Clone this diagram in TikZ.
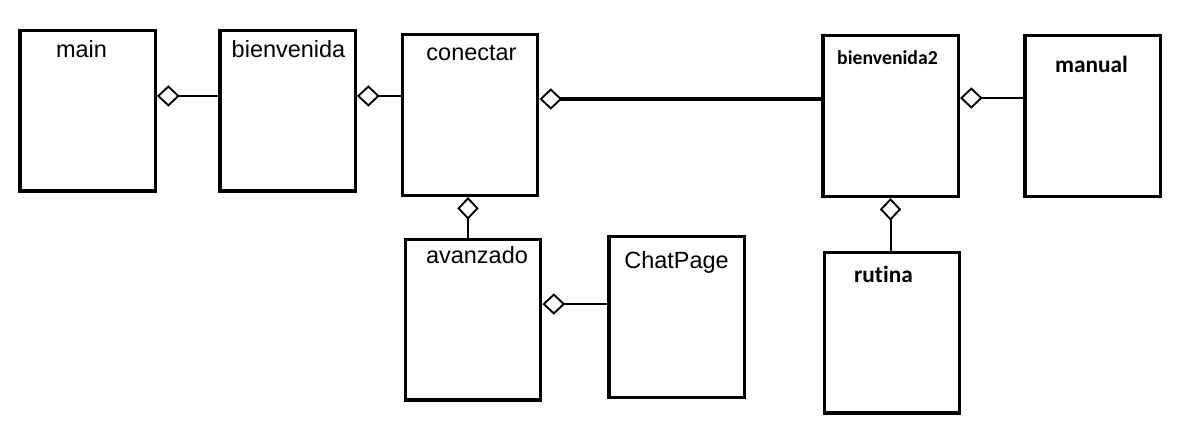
\documentclass[tikz,border=0pt]{standalone}
\usepackage{fontspec}
\setmainfont{Liberation Sans}
\newfontfamily\carlito[Ligatures=NoCommon]{Carlito}
\usetikzlibrary{arrows.meta}
\usetikzlibrary{positioning}

\tikzset{
  classbox/.style={draw, rectangle, line width=2.6pt, minimum width=101.6pt,
    minimum height=120.4pt, inner sep=0pt},
  plainname/.style={font=\fontsize{17.6}{20}\selectfont, anchor=base},
  boldname/.style={font=\carlito\bfseries\fontsize{17.5}{20}\selectfont, anchor=base},
  smallbold/.style={font=\carlito\bfseries\fontsize{14.8}{17}\selectfont, anchor=base},
  aggregation/.style={{Diamond[open, length=17pt, width=16pt, line width=1.4pt]}-,
    line width=1.5pt},
}

\begin{document}
\begin{tikzpicture}[x=0.75pt, y=-0.75pt]
      \useasboundingbox (0,0) rectangle (1180,446);

      % upper row
      \node[classbox, label={[plainname, xshift=-4.5pt, yshift=-21.75pt]north:main}]
        (main) at (87.5,110.5) {};
      \node[classbox, label={[plainname, xshift=0.75pt, yshift=-21.75pt]north:bienvenida}]
        (bienvenida) at (287.5,110.5) {};
      \node[classbox, label={[plainname, xshift=1.1pt, yshift=-20.25pt]north:conectar}]
        (conectar) at (470,115) {};
      \node[classbox, label={[smallbold, xshift=-2.25pt, yshift=-22.5pt]north:bienvenida2}]
        (bienvenida2) at (890.5,116) {};
      \node[classbox, label={[boldname, xshift=-0.75pt, yshift=-28.5pt]north:manual}]
        (manual) at (1092.5,116) {};

      % lower row
      \node[classbox, label={[plainname, xshift=3pt, yshift=-19.5pt]north:avanzado}]
        (avanzado) at (473,319.5) {};
      \node[classbox, label={[plainname, yshift=-24.75pt]north:ChatPage}]
        (chatpage) at (676.5,317) {};
      \node[classbox, label={[boldname, xshift=-6.4pt, yshift=-24pt]north:rutina}]
        (rutina) at (892,332.5) {};

      % aggregations
      \draw[aggregation] ([yshift=10.9pt]main.east) -- ([yshift=10.9pt]main.east -| bienvenida.west);
      \draw[aggregation] ([yshift=10.9pt]bienvenida.east) -- ([yshift=10.9pt]bienvenida.east -| conectar.west);
      \draw[aggregation, line width=2.5pt] ([yshift=12pt]conectar.east) -- ([yshift=12pt]conectar.east -| bienvenida2.west);
      \draw[aggregation] ([yshift=13.5pt]bienvenida2.east) -- ([yshift=13.5pt]bienvenida2.east -| manual.west);
      \draw[aggregation] ([xshift=-1.5pt]conectar.south) -- ([xshift=-1.5pt]conectar.south |- avanzado.north);
      \draw[aggregation] ([yshift=11.6pt]avanzado.east) -- ([yshift=11.6pt]avanzado.east -| chatpage.west);
      \draw[aggregation] (bienvenida2.south) -- (bienvenida2.south |- rutina.north);
\end{tikzpicture}
\end{document}
